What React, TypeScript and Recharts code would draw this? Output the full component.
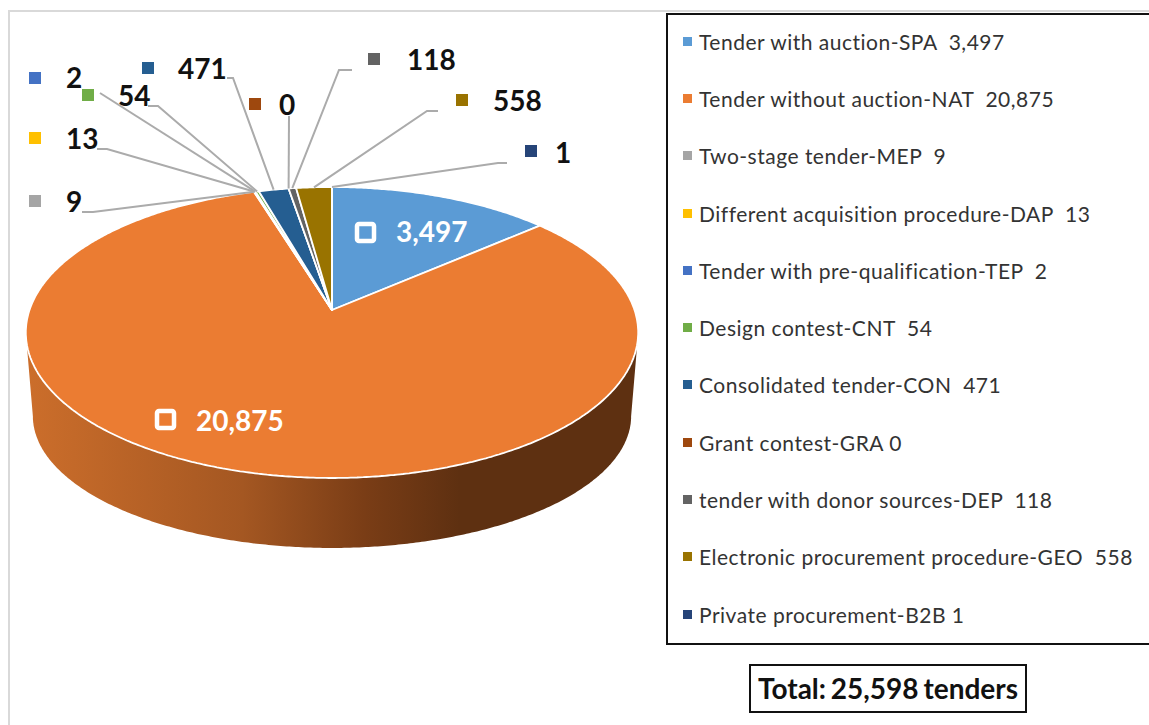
import React from 'react';
import { PieChart, Pie, Cell, Legend } from 'recharts';

const legendLabels = [
  'Tender with auction-SPA  3,497',
  'Tender without auction-NAT  20,875',
  'Two-stage tender-MEP  9',
  'Different acquisition procedure-DAP  13',
  'Tender with pre-qualification-TEP  2',
  'Design contest-CNT  54',
  'Consolidated tender-CON  471',
  'Grant contest-GRA 0',
  'tender with donor sources-DEP  118',
  'Electronic procurement procedure-GEO  558',
  'Private procurement-B2B 1',
];
const tenderCounts = [3497, 20875, 9, 13, 2, 54, 471, 0, 118, 558, 1];
const sliceColors = ['#5B9BD5', '#EB7C32', '#A5A5A5', '#FFC000', '#4472C4', '#70AD47', '#255E91', '#9E480E', '#636363', '#997300', '#264478'];

// where each data label sits: key square, text, leader elbow
const labelKeys = [[355, 222], [155, 409], [29, 195], [29, 132], [29, 72], [82, 89], [142, 62], [249, 98], [368, 53], [456, 94], [525, 145]];
const labelTexts = [[396, 242], [196, 431], [66, 212], [66, 149], [66, 88], [118, 106], [178, 79], [279, 115], [407, 70], [493, 111], [555, 163]];
const labelLeaders = [
  null,
  null,
  [[82, 212], [93, 212]],
  [[97, 149], [107, 149]],
  [[100, 93]],
  [[148, 106], [158, 106]],
  [[227, 78], [233, 78]],
  [[289, 116]],
  [[352, 70], [339, 70]],
  [[438, 111], [427, 111]],
  [[507, 163], [498, 163]],
];

const chartData = legendLabels.map((name, i) => ({ name, value: tenderCounts[i] }));

const FONT = 'Lato, sans-serif';
const TILT = 0.1546;
const SQUASH = 0.4694;
const RIM_OFFSET = 22.5; // rim ellipse centre sits below the pie centre

const project = (cx: number, cy: number, r: number, deg: number) => {
  const a = (deg * Math.PI) / 180;
  const w = 1 + TILT * Math.sin(a);
  return [cx + (r * Math.cos(a)) / w, cy - (SQUASH * r * Math.sin(a)) / w];
};

const toPath = (pts: number[][]) => pts.map((p, i) => `${i ? 'L' : 'M'}${p[0].toFixed(1)},${p[1].toFixed(1)}`).join(' ');

const Slice3D = (props: any) => {
  const { cx, cy, outerRadius, startAngle, endAngle, fill, index } = props;
  const rim: number[][] = [];
  const n = Math.max(2, Math.ceil(Math.abs(endAngle - startAngle) * 2));
  for (let i = 0; i <= n; i++) {
    rim.push(project(cx, cy, outerRadius, startAngle + ((endAngle - startAngle) * i) / n));
  }
  const front = rim.filter((p) => p[1] >= cy + RIM_OFFSET);
  const base = front.map((p) => [cx + (p[0] - cx) * 0.977, cy + 106 + (p[1] - cy - RIM_OFFSET) * 0.907]);
  return (
    <g>
      {front.length > 1 && (
        <path d={`${toPath([...front, ...base.reverse()])} Z`} fill={index === 1 ? 'url(#sideShade)' : fill} />
      )}
      <path d={`${toPath([[cx, cy], ...rim])} Z`} fill={fill} stroke="#fff" strokeWidth={1.8} strokeLinejoin="round" />
    </g>
  );
};

const renderLabel = (props: any) => {
  const { cx, cy, outerRadius, midAngle, value, index } = props;
  const key = labelKeys[index];
  const text = labelTexts[index];
  const leader = labelLeaders[index];
  const inside = !leader;
  const anchor = project(cx, cy, outerRadius, midAngle);
  return (
    <g>
      {leader && <path d={toPath([...leader, anchor])} fill="none" stroke="#ABABAB" strokeWidth={2} />}
      {inside ? (
        <rect x={key[0] + 2} y={key[1] + 2} width={17} height={17} rx={2} fill={sliceColors[index]} stroke="#fff" strokeWidth={4.5} />
      ) : (
        <rect x={key[0] - 0.5} y={key[1] - 0.5} width={13} height={13} fill={sliceColors[index]} stroke="#fff" strokeWidth={1} />
      )}
      <text x={text[0]} y={text[1]} fontFamily={FONT} fontSize={28} fontWeight={700} fill={inside ? '#fff' : '#111'}>
        {value.toLocaleString('en-US')}
      </text>
    </g>
  );
};

const renderLegend = (props: any) => (
  <div style={{ fontFamily: FONT, fontSize: 21, letterSpacing: 0.5, color: '#333' }}>
    {props.payload.map((item: any) => (
      <div key={item.value} style={{ height: 57.3, display: 'flex', alignItems: 'center', whiteSpace: 'pre' }}>
        <span style={{ width: 9, height: 9, background: item.color, marginRight: 7, flex: 'none' }} />
        {item.value}
      </div>
    ))}
  </div>
);

export default function App() {
  return (
    <div style={{ position: 'absolute', left: 0, top: 0, width: 1149, height: 725, overflow: 'hidden', background: '#fff' }}>
      <div style={{ position: 'absolute', left: 8, top: 10, width: 1141, height: 715, borderLeft: '2px solid #D9D9D9', borderTop: '2px solid #D9D9D9', boxSizing: 'border-box' }} />
      <div style={{ position: 'absolute', left: 666, top: 13, width: 500, height: 632, border: '2.5px solid #111', boxSizing: 'border-box', background: '#fff' }} />
      <PieChart width={1149} height={725} margin={{ top: 0, right: 0, bottom: 0, left: 0 }} style={{ position: 'absolute', left: 0, top: 0 }}>
        <defs>
          <linearGradient id="sideShade" gradientUnits="userSpaceOnUse" x1={25} y1={0} x2={460} y2={0}>
            <stop offset="0" stopColor="#CC6E2B" />
            <stop offset="0.5" stopColor="#A45722" />
            <stop offset="0.78" stopColor="#7A3D16" />
            <stop offset="1" stopColor="#5E3011" />
          </linearGradient>
        </defs>
        <Pie
          data={chartData}
          dataKey="value"
          nameKey="name"
          cx={332}
          cy={310}
          outerRadius={302.5}
          startAngle={90}
          endAngle={-270}
          paddingAngle={0}
          minAngle={0}
          shape={Slice3D}
          label={renderLabel}
          labelLine={false}
          isAnimationActive={false}
        >
          {chartData.map((d, i) => (
            <Cell key={d.name} fill={sliceColors[i]} />
          ))}
        </Pie>
        <Legend
          content={renderLegend}
          itemSorter={null}
          wrapperStyle={{ position: 'absolute', left: 683, top: 12.5, width: 460, bottom: 'auto' }}
        />
      </PieChart>
      <div
        style={{
          position: 'absolute', left: 749, top: 664, width: 278, height: 49, boxSizing: 'border-box',
          border: '2px solid #111', fontFamily: FONT, fontWeight: 700, fontSize: 28, wordSpacing: -2, color: '#111',
          textAlign: 'center', lineHeight: '45px', whiteSpace: 'pre',
        }}
      >
        Total: 25,598 tenders
      </div>
    </div>
  );
}
